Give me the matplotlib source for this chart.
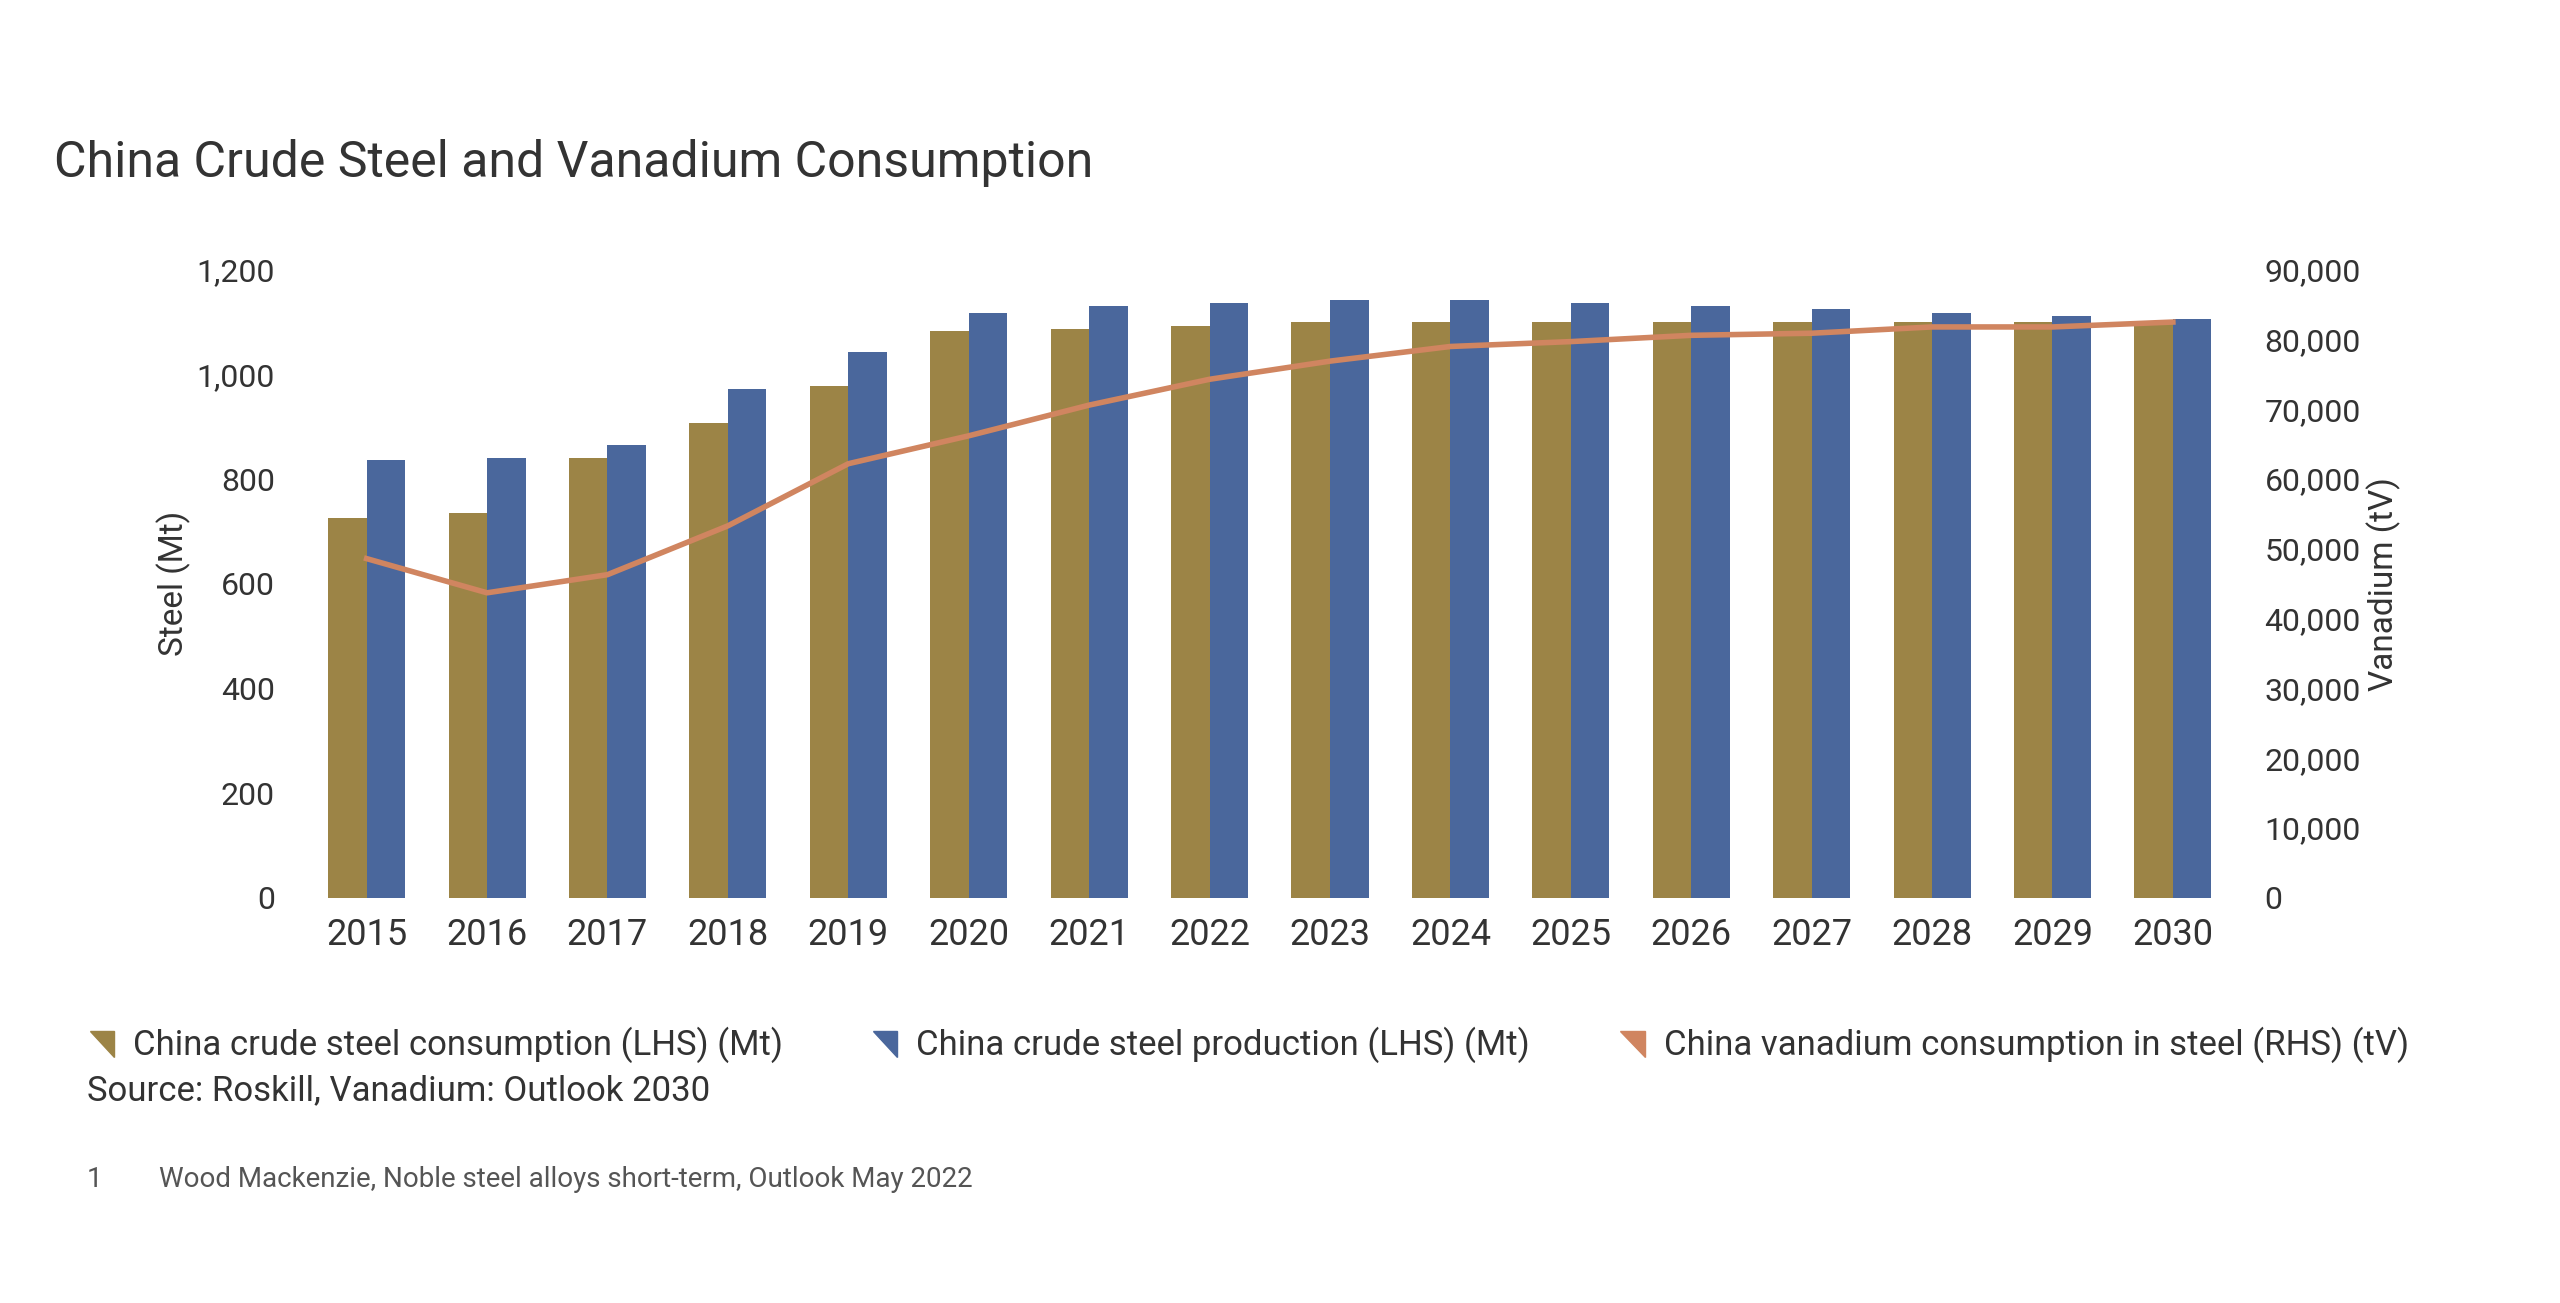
import numpy as np
import matplotlib.pyplot as plt
from matplotlib.patches import Polygon
from matplotlib.ticker import FuncFormatter

years = [str(y) for y in range(2015, 2031)]
consumption = [725, 735, 840, 908, 978, 1082, 1087, 1093, 1100, 1100, 1100, 1100, 1100, 1100, 1100, 1100]
production = [837, 840, 866, 972, 1043, 1118, 1130, 1137, 1142, 1142, 1137, 1130, 1125, 1118, 1112, 1106]
vanadium = [48600, 43700, 46300, 53300, 62200, 66200, 70600, 74300, 76900, 79000, 79700, 80600, 80900, 81800, 81800, 82500]

c_gold = '#9C8446'
c_blue = '#4A679C'
c_orange = '#D08560'
c_text = '#333333'

plt.rcParams['font.family'] = ['Liberation Sans Narrow', 'Roboto', 'DejaVu Sans']

fig = plt.figure(figsize=(25.6, 13.03), dpi=100)
ax = fig.add_axes([0.115, 0.311, 0.762, 0.482])
x = np.arange(len(years))
w = 0.32
ax.bar(x - w / 2, consumption, w, color=c_gold)
ax.bar(x + w / 2, production, w, color=c_blue)
ax.set_ylim(0, 1200)
ax.set_xlim(-0.6, len(years) - 0.4)
ax.set_yticks(range(0, 1201, 200))
ax.yaxis.set_major_formatter(FuncFormatter(lambda v, p: f'{v:,.0f}'))
ax.set_xticks(x)
ax.set_xticklabels(years)
ax.set_ylabel('Steel (Mt)', fontsize=24, color=c_text)

ax2 = ax.twinx()
ax2.plot(x, vanadium, color=c_orange, lw=4)
ax2.set_ylim(0, 90000)
ax2.set_yticks(range(0, 90001, 10000))
ax2.yaxis.set_major_formatter(FuncFormatter(lambda v, p: f'{v:,.0f}'))
ax2.set_ylabel('Vanadium (tV)', fontsize=24, color=c_text)

for a in (ax, ax2):
    for s in a.spines.values():
        s.set_visible(False)
    a.tick_params(length=0, labelsize=23, labelcolor=c_text, pad=14)
ax.tick_params(axis='x', labelsize=26, pad=14)

fig.text(0.021, 0.875, 'China Crude Steel and Vanadium Consumption', fontsize=36, color=c_text, va='center')

legend = [(c_gold, 'China crude steel consumption (LHS) (Mt)', 0.035, 0.052),
          (c_blue, 'China crude steel production (LHS) (Mt)', 0.341, 0.358),
          (c_orange, 'China vanadium consumption in steel (RHS) (tV)', 0.633, 0.650)]
ly = 0.198
for col, lab, mx, tx in legend:
    tri = Polygon([[mx, ly + 0.011], [mx + 0.0095, ly + 0.011], [mx + 0.0095, ly - 0.009]],
                  closed=True, color=col, transform=fig.transFigure)
    fig.patches.append(tri)
    fig.text(tx, ly, lab, fontsize=25, color=c_text, va='center')

fig.text(0.034, 0.163, 'Source: Roskill, Vanadium: Outlook 2030', fontsize=25, color=c_text, va='center')
fig.text(0.034, 0.095, '1', fontsize=20, color='#555555', va='center')
fig.text(0.062, 0.095, 'Wood Mackenzie, Noble steel alloys short-term, Outlook May 2022', fontsize=20, color='#555555', va='center')

fig.savefig('out.png', dpi=100, facecolor='white')
